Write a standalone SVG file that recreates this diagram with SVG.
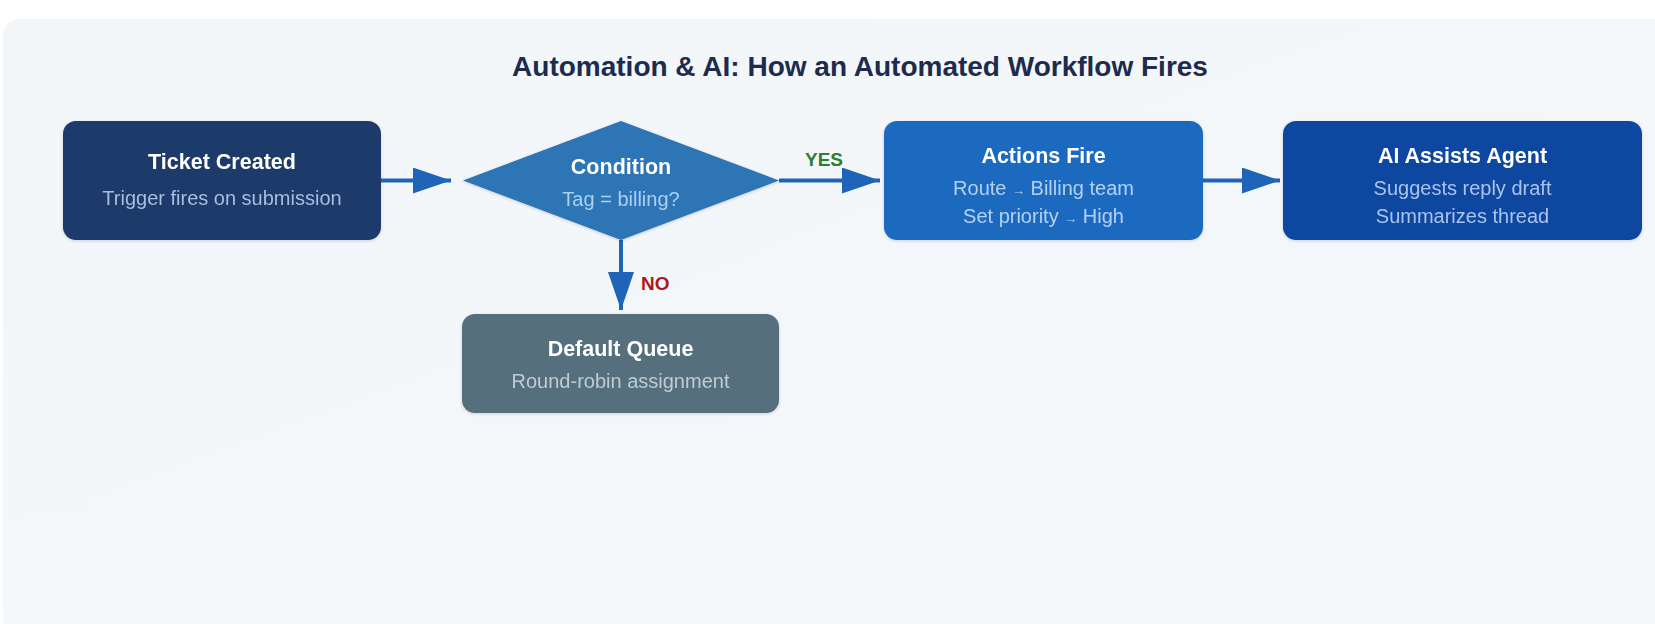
<svg xmlns="http://www.w3.org/2000/svg" width="1655" height="624" viewBox="0 0 1655 624">
  <defs>
    <linearGradient id="panelGrad" x1="0" y1="0" x2="1" y2="1">
      <stop offset="0" stop-color="#f2f6f9"/>
      <stop offset="1" stop-color="#f5f8fb"/>
    </linearGradient>
    <filter id="shadow" x="-10%" y="-10%" width="120%" height="130%">
      <feDropShadow dx="0" dy="1" stdDeviation="1.5" flood-color="#0b2a5a" flood-opacity="0.18"/>
    </filter>
    <marker id="arrow" viewBox="0 0 38 26" refX="38" refY="13" markerWidth="38" markerHeight="26" markerUnits="userSpaceOnUse" orient="auto">
      <path d="M0,0 L38,13 L0,26 Z" fill="#1f64b6"/>
    </marker>
    <style>
      .title { font-family: "Liberation Sans", Arial, sans-serif; font-weight: bold; font-size: 28px; fill: #1d2b4f; text-anchor: middle; }
      .nt { font-family: "Liberation Sans", Arial, sans-serif; font-weight: bold; font-size: 21.5px; fill: #ffffff; text-anchor: middle; }
      .ns { font-family: "Liberation Sans", Arial, sans-serif; font-size: 20px; text-anchor: middle; }
      .conn { stroke: #1f64b6; stroke-width: 4; fill: none; marker-end: url(#arrow); }
      .lbl { font-family: "Liberation Sans", Arial, sans-serif; font-weight: bold; font-size: 19px; }
    </style>
  </defs>

  <rect x="0" y="0" width="1655" height="624" fill="#ffffff"/>
  <rect x="3" y="19" width="1680" height="620" rx="16" fill="url(#panelGrad)"/>

  <text class="title" x="860" y="76">Automation &amp; AI: How an Automated Workflow Fires</text>

  <g id="connectors">
    <line class="conn" x1="381" y1="180.5" x2="451" y2="180.5"/>
    <line class="conn" x1="779" y1="180.5" x2="880" y2="180.5"/>
    <line class="conn" x1="1203" y1="180.5" x2="1280" y2="180.5"/>
    <line class="conn" x1="621" y1="240" x2="621" y2="310"/>
    <text class="lbl" x="805" y="166" fill="#2e7d32">YES</text>
    <text class="lbl" x="641" y="290" fill="#b0161c">NO</text>
  </g>

  <g id="node-ticket-created" filter="url(#shadow)">
    <rect x="63" y="121" width="318" height="119" rx="13" fill="#1f3a6a"/>
    <text class="nt" x="222" y="169">Ticket Created</text>
    <text class="ns" x="222" y="205" fill="#a7bde0">Trigger fires on submission</text>
  </g>

  <g id="node-condition" filter="url(#shadow)">
    <polygon points="621,121 779,180.5 621,240 463,180.5" fill="#2e74b6"/>
    <text class="nt" x="621" y="174" font-size="19.5">Condition</text>
    <text class="ns" x="621" y="206" fill="#acd0f2">Tag = billing?</text>
  </g>

  <g id="node-actions-fire" filter="url(#shadow)">
    <rect x="884" y="121" width="319" height="119" rx="13" fill="#1f6bc0"/>
    <text class="nt" x="1043.5" y="163">Actions Fire</text>
    <text class="ns" x="1043.5" y="195" fill="#b3d1f3">Route <tspan font-size="13">→</tspan> Billing team</text>
    <text class="ns" x="1043.5" y="223" fill="#b3d1f3">Set priority <tspan font-size="13">→</tspan> High</text>
  </g>

  <g id="node-ai-assists" filter="url(#shadow)">
    <rect x="1283" y="121" width="359" height="119" rx="13" fill="#0f469f"/>
    <text class="nt" x="1462.5" y="163">AI Assists Agent</text>
    <text class="ns" x="1462.5" y="195" fill="#a9c4ee">Suggests reply draft</text>
    <text class="ns" x="1462.5" y="223" fill="#a9c4ee">Summarizes thread</text>
  </g>

  <g id="node-default-queue" filter="url(#shadow)">
    <rect x="462" y="314" width="317" height="99" rx="13" fill="#546f7b"/>
    <text class="nt" x="620.5" y="356">Default Queue</text>
    <text class="ns" x="620.5" y="388" fill="#c0ccd2">Round-robin assignment</text>
  </g>
</svg>
